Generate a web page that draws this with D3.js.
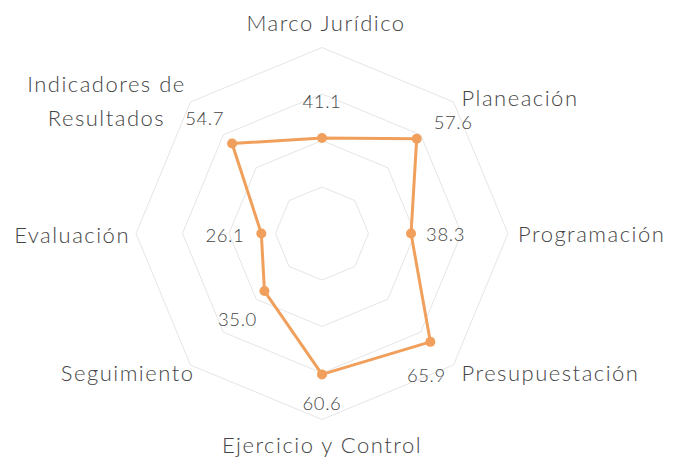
<!DOCTYPE html>
<html>
<head>
<meta charset="utf-8">
<script src="https://cdn.jsdelivr.net/npm/d3@7"></script>
<style>
  html, body { margin: 0; padding: 0; background: #fff; }
  svg { display: block; }
  .cat { font-family: Lato, "Open Sans", sans-serif; font-weight: 300; font-size: 22px; letter-spacing: 1.5px; fill: #454545; }
  .val { font-family: Lato, "Open Sans", sans-serif; font-weight: 300; font-size: 18.5px; letter-spacing: 0.6px; fill: #454545; }
</style>
</head>
<body>
<svg id="chart" width="676" height="457"></svg>
<script>
// categories clockwise from the top
const categories = ['Marco Jurídico', 'Planeación', 'Programación', 'Presupuestación',
  'Ejercicio y Control', 'Seguimiento', 'Evaluación', 'Indicadores de|Resultados'];
const values = [41.1, 57.6, 38.3, 65.9, 60.6, 35.0, 26.1, 54.7];
const gridTicks = [20, 40, 60, 80];

// layout: nudges for category labels [dx, dy, anchor] from the outer vertex
const catNudge = [
  [4, -17, 'middle'], [8, 4, 'start'], [10, 8.5, 'start'], [8, 16, 'start'],
  [0, 33, 'middle'], [4, 16, 'end'], [-6, 9.5, 'end'], [-84, -10, 'middle']
];
// layout: nudges for value labels [dx, dy, anchor] from the point
const valNudge = [
  [0, -29.5, 'middle'], [17, -10, 'start'], [15, 7.5, 'start'], [-4, 40, 'middle'],
  [0, 36, 'middle'], [-27, 35, 'middle'], [-17, 8, 'end'], [-8, -19, 'end']
];

const cx = 322, cy = 233.5;
const color = '#F0A05C';

const svg = d3.select('#chart');
const r = d3.scaleLinear().domain([0, 80]).range([0, 186]);
const angle = d3.scalePoint().domain(d3.range(categories.length + 1)).range([0, 2 * Math.PI]);

const pt = (i, v) => {
  const a = angle(i);
  return [cx + r(v) * Math.sin(a), cy - r(v) * Math.cos(a)];
};

const g = svg.append('g');

// grid rings
g.selectAll('path.ring')
  .data(gridTicks)
  .join('path')
  .attr('class', 'ring')
  .attr('d', t => d3.line()(categories.map((c, i) => pt(i, t))) + 'Z')
  .attr('fill', 'none')
  .attr('stroke', '#e5e5e5')
  .attr('stroke-width', 1);

// series line
g.append('path')
  .attr('d', d3.line()(values.map((v, i) => pt(i, v))) + 'Z')
  .attr('fill', 'none')
  .attr('stroke', color)
  .attr('stroke-width', 3)
  .attr('stroke-linejoin', 'round');

g.selectAll('circle.pt')
  .data(values)
  .join('circle')
  .attr('class', 'pt')
  .attr('cx', (v, i) => pt(i, v)[0])
  .attr('cy', (v, i) => pt(i, v)[1])
  .attr('r', 5)
  .attr('fill', color);

// value labels
g.selectAll('text.val')
  .data(values)
  .join('text')
  .attr('class', 'val')
  .attr('x', (v, i) => pt(i, v)[0] + valNudge[i][0])
  .attr('y', (v, i) => pt(i, v)[1] + valNudge[i][1])
  .attr('text-anchor', (v, i) => valNudge[i][2])
  .text(v => v.toFixed(1));

// category labels
const maxV = r.domain()[1];
categories.forEach((c, i) => {
  const [x, y] = pt(i, maxV);
  const [dx, dy, anchor] = catNudge[i];
  const lines = c.split('|');
  const t = g.append('text')
    .attr('class', 'cat')
    .attr('text-anchor', anchor)
    .attr('x', x + dx)
    .attr('y', y + dy);
  lines.forEach((l, k) => {
    t.append('tspan')
      .attr('x', x + dx)
      .attr('dy', k === 0 ? 0 : 34)
      .text(l);
  });
});
</script>
</body>
</html>
